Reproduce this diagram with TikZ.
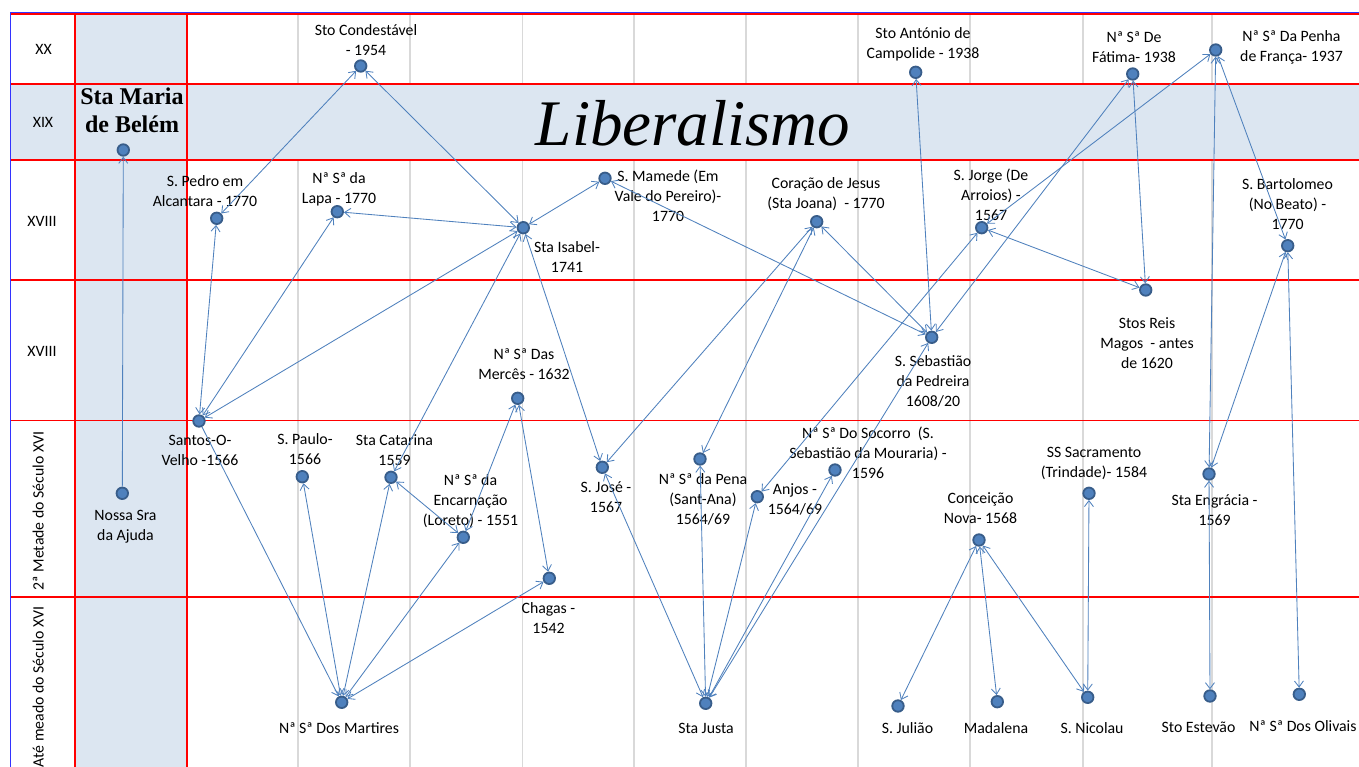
\documentclass[tikz,border=0pt]{standalone}
\usepackage{fontspec}
\setmainfont{Carlito}
\newfontfamily\tnr{Liberation Serif}
\usetikzlibrary{arrows.meta}
\definecolor{lineblue}{RGB}{79,129,189}
\definecolor{dotedge}{RGB}{56,93,138}
\definecolor{bandblue}{RGB}{220,230,241}
\definecolor{gridgray}{RGB}{217,217,217}
\definecolor{frameblue}{RGB}{51,51,255}
\tikzset{
  dot/.style={circle, fill=lineblue, draw=dotedge, line width=1.8pt, minimum size=11.5pt, inner sep=0pt},
  lbl/.style={font=\fontsize{15.8}{20}\selectfont, align=center, inner sep=0pt, yshift=-3.5pt,
    execute at begin node=\strut, execute at end node=\strut},
  rowlbl/.style={lbl},
  conn/.style={draw=lineblue, line width=0.85pt,
    {Straight Barb[length=6pt,width=9pt]}-{Straight Barb[length=6pt,width=9pt]}},
  conn1/.style={draw=lineblue, line width=0.85pt, -{Straight Barb[length=6pt,width=9pt]}},
  redline/.style={draw=red, line width=1.6pt},
  gridline/.style={draw=gridgray, line width=1.3pt},
}
\begin{document}
\begin{tikzpicture}[x=1pt,y=-1pt]
\useasboundingbox (0,0) rectangle (1359,767);
\fill[white] (0,0) rectangle (1359,767);
% grid
\foreach \x in {298,410,522.5,634,746,858,970,1083,1212} \draw[gridline] (\x,14) -- (\x,767);
\fill[bandblue] (10,84) rectangle (1359,160);
\fill[bandblue] (75,14) rectangle (187,767);
\foreach \y in {14,84,160,280,420.5,597} \draw[redline] (10,\y) -- (1359,\y);
\foreach \x in {75,187} \draw[redline] (\x,14) -- (\x,767);
\draw[frameblue, line width=1.2pt] (10.5,767) -- (10.5,12.5) -- (1359,12.5);

% row labels
\node[rowlbl] (rxx) at (43.5,47) {XX};
\node[rowlbl] (rxix) at (43,120) {XIX};
\node[rowlbl] (rxviiia) at (42,219) {XVIII};
\node[rowlbl] (rxviiib) at (42,349) {XVIII};
\node[lbl, rotate=90, yshift=3.5pt] (rmet) at (43,507.5) {2ª Metade do Século XVI};
\node[lbl, rotate=90, yshift=3.5pt, anchor=east] (rate) at (43,603) {Até meado do Século XVI};

% titles
\node[font=\tnr\bfseries\fontsize{24}{28.3}\selectfont, align=center, inner sep=0pt] (belemtitle) at (132,110.5) {Sta Maria\\de Belém};
\node[font=\tnr\itshape\fontsize{65}{70}\selectfont, inner sep=0pt, anchor=base] (liberal) at (693,146) {Liberalismo};

% dots
\node[dot] (belem) at (123.3,150) {};
\node[dot] (ajuda) at (122.3,493.3) {};
\node[dot] (condestavel) at (360.7,66) {};
\node[dot] (pedro) at (216.7,218.3) {};
\node[dot] (lapa) at (337.3,211.7) {};
\node[dot] (isabel) at (523.3,227.7) {};
\node[dot] (mamede) at (605,178.3) {};
\node[dot] (coracao) at (816.7,221.7) {};
\node[dot] (antonio) at (915.7,72.3) {};
\node[dot] (fatima) at (1132.7,74) {};
\node[dot] (penha) at (1215.7,50) {};
\node[dot] (jorge) at (981.7,227.7) {};
\node[dot] (bartolomeo) at (1287.7,245.7) {};
\node[dot] (sebastiao) at (931.7,337.3) {};
\node[dot] (reis) at (1145.7,290) {};
\node[dot] (santos) at (199,421) {};
\node[dot] (paulo) at (302.3,476.7) {};
\node[dot] (catarina) at (391,477.3) {};
\node[dot] (merces) at (517.7,398.3) {};
\node[dot] (encarnacao) at (463.3,537.3) {};
\node[dot] (chagas) at (549.3,578.3) {};
\node[dot] (jose) at (602.3,467.3) {};
\node[dot] (pena) at (700,459) {};
\node[dot] (anjos) at (757.3,496.7) {};
\node[dot] (socorro) at (835,470) {};
\node[dot] (conceicao) at (979,540) {};
\node[dot] (sacramento) at (1089,493.3) {};
\node[dot] (engracia) at (1209,474) {};
\node[dot] (martires) at (341.7,702.3) {};
\node[dot] (justa) at (705.7,703.3) {};
\node[dot] (juliao) at (898,706) {};
\node[dot] (madalena) at (997.3,701.7) {};
\node[dot] (nicolau) at (1087.7,697.3) {};
\node[dot] (estevao) at (1210,696) {};
\node[dot] (olivais) at (1299.3,694.3) {};

% labels
\node[lbl] (tajuda) at (125.5,525) {Nossa Sra\\da Ajuda};
\node[lbl] (tcondestavel) at (366,40) {Sto Condestável\\- 1954};
\node[lbl] (tpedro) at (205,191) {S. Pedro em\\Alcantara - 1770};
\node[lbl] (tlapa) at (339,188) {Nª Sª da\\Lapa - 1770};
\node[lbl] (tisabel) at (567,257) {Sta Isabel-\\1741};
\node[lbl] (tmamede) at (668,195) {S. Mamede (Em\\Vale do Pereiro)-\\1770};
\node[lbl] (tcoracao) at (826,193) {Coração de Jesus\\(Sta Joana) \ - 1770};
\node[lbl] (tantonio) at (923,43) {Sto António de\\Campolide - 1938};
\node[lbl] (tfatima) at (1134,46.5) {Nª Sª De\\Fátima- 1938};
\node[lbl] (tpenha) at (1291.5,46) {Nª Sª Da Penha\\de França- 1937};
\node[lbl] (tjorge) at (991,194) {S. Jorge (De\\Arroios) -\\1567};
\node[lbl] (tbartolomeo) at (1287.5,204) {S. Bartolomeo\\(No Beato) -\\1770};
\node[lbl] (tsebastiao) at (933,381) {S. Sebastião\\da Pedreira\\1608/20};
\node[lbl] (treis) at (1147,342.5) {Stos Reis\\Magos \ - antes\\de 1620};
\node[lbl] (tsantos) at (200,450) {Santos-O-\\Velho -1566};
\node[lbl] (tpaulo) at (305,449) {S. Paulo-\\1566};
\node[lbl] (tcatarina) at (394.5,450) {Sta Catarina\\1559};
\node[lbl] (tmerces) at (524,364) {Nª Sª Das\\Mercês - 1632};
\node[lbl] (tencarnacao) at (470.5,500) {Nª Sª da\\Encarnação\\(Loreto) - 1551};
\node[lbl] (tchagas) at (548.5,617.5) {Chagas -\\1542};
\node[lbl] (tjose) at (606,497) {S. José -\\1567};
\node[lbl] (tpena) at (703,499) {Nª Sª da Pena\\(Sant-Ana)\\1564/69};
\node[lbl] (tanjos) at (795,499) {Anjos -\\1564/69};
\node[lbl] (tsocorro) at (868,452) {Nª Sª Do Socorro \ (S.\\Sebastião da Mouraria) -\\1596};
\node[lbl] (tconceicao) at (980.5,508) {Conceição\\Nova- 1568};
\node[lbl] (tsacramento) at (1094,462) {SS Sacramento\\(Trindade)- 1584};
\node[lbl] (tengracia) at (1214.5,510) {Sta Engrácia -\\1569};
\node[lbl] (tmartires) at (339,725.5) {Nª Sª Dos Martires};
\node[lbl] (tjusta) at (706,725.5) {Sta Justa};
\node[lbl] (tjuliao) at (907.5,725.5) {S. Julião};
\node[lbl] (tmadalena) at (996,725.5) {Madalena};
\node[lbl] (tnicolau) at (1092,725.5) {S. Nicolau};
\node[lbl] (testevao) at (1198.5,724.5) {Sto Estevão};
\node[lbl] (tolivais) at (1303,723.5) {Nª Sª Dos Olivais};

% connectors
\draw[conn1] (ajuda) -- (belem);
\draw[conn1] (santos) -- (martires);
\draw[conn] (pedro) -- (condestavel);
\draw[conn] (condestavel) -- (isabel);
\draw[conn] (santos) -- (pedro);
\draw[conn] (santos) -- (lapa);
\draw[conn] (santos) -- (isabel);
\draw[conn] (lapa) -- (isabel);
\draw[conn] (isabel) -- (mamede);
\draw[conn] (isabel) -- (catarina);
\draw[conn] (isabel) -- (jose);
\draw[conn] (mamede) -- (sebastiao);
\draw[conn] (coracao) -- (sebastiao);
\draw[conn] (coracao) -- (pena);
\draw[conn] (coracao) -- (jose);
\draw[conn] (antonio) -- (sebastiao);
\draw[conn] (fatima) -- (sebastiao);
\draw[conn] (fatima) -- (reis);
\draw[conn] (penha) -- (jorge);
\draw[conn] (penha) -- (engracia);
\draw[conn] (penha) -- (bartolomeo);
\draw[conn] (jorge) -- (reis);
\draw[conn] (jorge) -- (anjos);
\draw[conn] (bartolomeo) -- (engracia);
\draw[conn] (bartolomeo) -- (olivais);
\draw[conn] (engracia) -- (estevao);
\draw[conn] (sacramento) -- (nicolau);
\draw[conn] (conceicao) -- (juliao);
\draw[conn] (conceicao) -- (madalena);
\draw[conn] (conceicao) -- (nicolau);
\draw[conn] (paulo) -- (martires);
\draw[conn] (catarina) -- (martires);
\draw[conn] (catarina) -- (encarnacao);
\draw[conn] (encarnacao) -- (martires);
\draw[conn] (encarnacao) -- (merces);
\draw[conn] (merces) -- (chagas);
\draw[conn] (chagas) -- (martires);
\draw[conn] (jose) -- (justa);
\draw[conn] (pena) -- (justa);
\draw[conn] (anjos) -- (justa);
\draw[conn] (socorro) -- (justa);
\draw[conn] (sebastiao) -- (justa);
\end{tikzpicture}
\end{document}
